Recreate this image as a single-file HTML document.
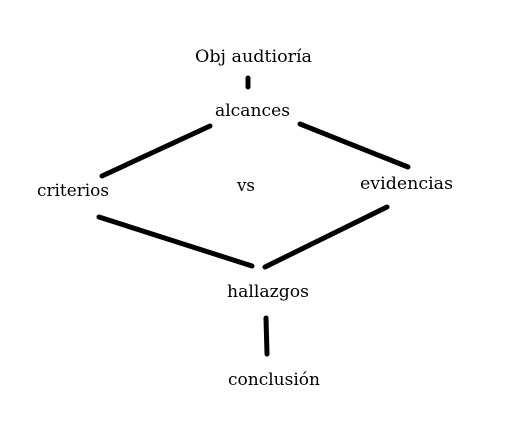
<!DOCTYPE html>
<html><head><style>
html,body{margin:0;padding:0;background:#fff;}
svg{display:block}
text{font-family:"DejaVu Serif","Liberation Serif",serif;font-size:17px;fill:#000}
</style></head><body>
<svg width="516" height="440" viewBox="0 0 516 440">
<g stroke="#000" stroke-width="5" stroke-linecap="round" fill="none">
<line x1="248" y1="78" x2="248" y2="87"/>
<line x1="102" y1="176" x2="210" y2="126"/>
<line x1="300" y1="124" x2="408" y2="167"/>
<line x1="99" y1="217" x2="252" y2="266"/>
<line x1="265" y1="267" x2="387" y2="207"/>
<line x1="266" y1="318" x2="267" y2="354"/>
</g>
<text x="195" y="62" textLength="117" lengthAdjust="spacingAndGlyphs">Obj audtioría</text>
<text x="215" y="116" textLength="75" lengthAdjust="spacingAndGlyphs">alcances</text>
<text x="37" y="196" textLength="72" lengthAdjust="spacingAndGlyphs">criterios</text>
<text x="237" y="191" textLength="18" lengthAdjust="spacingAndGlyphs">vs</text>
<text x="360" y="189" textLength="93" lengthAdjust="spacingAndGlyphs">evidencias</text>
<text x="227" y="297" textLength="82" lengthAdjust="spacingAndGlyphs">hallazgos</text>
<text x="228" y="385" textLength="92" lengthAdjust="spacingAndGlyphs">conclusión</text>
</svg>
</body></html>
